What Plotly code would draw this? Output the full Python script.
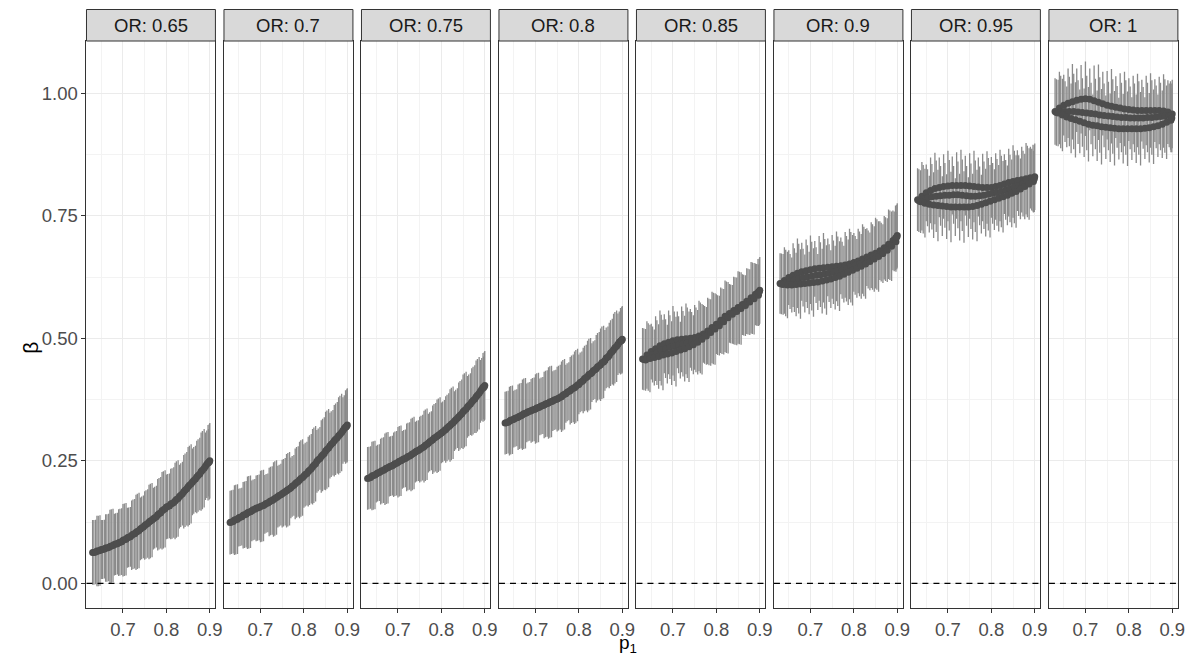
import plotly.graph_objects as go

# ---------------- data ----------------
OR_LABELS = ["0.65", "0.7", "0.75", "0.8", "0.85", "0.9", "0.95", "1"]

P1_U = [0.630, 0.640, 0.650, 0.660, 0.670, 0.680, 0.690, 0.700, 0.710, 0.720, 0.730, 0.740, 0.750, 0.760,
        0.770, 0.780, 0.790, 0.800, 0.810, 0.820, 0.830, 0.840, 0.850, 0.860, 0.870, 0.880, 0.890, 0.900]
P1_M = [0.633, 0.643, 0.653, 0.663, 0.673, 0.683, 0.693, 0.703, 0.713, 0.723, 0.733, 0.743, 0.753, 0.763,
        0.773, 0.783, 0.793, 0.803, 0.813, 0.823, 0.833, 0.843, 0.853, 0.863, 0.873, 0.883, 0.893, 0.896]
P1_L = [0.637, 0.647, 0.657, 0.667, 0.677, 0.687, 0.697, 0.707, 0.717, 0.727, 0.737, 0.747, 0.757, 0.767,
        0.777, 0.787, 0.797, 0.807, 0.817, 0.827, 0.837, 0.847, 0.857, 0.867, 0.877, 0.887, 0.897, 0.899]

# OR 0.65
U_065 = [0.063, 0.066, 0.069, 0.072, 0.075, 0.079, 0.083, 0.088, 0.093, 0.098, 0.104, 0.111, 0.118, 0.125,
         0.132, 0.140, 0.148, 0.156, 0.162, 0.168, 0.177, 0.187, 0.197, 0.207, 0.217, 0.228, 0.239, 0.250]
M_065 = [0.063, 0.066, 0.069, 0.072, 0.076, 0.080, 0.084, 0.089, 0.094, 0.100, 0.106, 0.113, 0.120, 0.127,
         0.134, 0.142, 0.150, 0.157, 0.163, 0.171, 0.180, 0.190, 0.200, 0.210, 0.220, 0.231, 0.243, 0.246]
L_065 = [0.064, 0.067, 0.070, 0.073, 0.077, 0.081, 0.085, 0.090, 0.095, 0.101, 0.108, 0.115, 0.122, 0.129,
         0.136, 0.144, 0.152, 0.158, 0.165, 0.173, 0.183, 0.193, 0.203, 0.213, 0.223, 0.235, 0.246, 0.248]
HW_065 = [0.066, 0.072, 0.060, 0.069, 0.075, 0.063, 0.068, 0.074, 0.061, 0.071, 0.077, 0.064, 0.070, 0.076,
          0.063, 0.073, 0.079, 0.066, 0.072, 0.078, 0.065, 0.075, 0.081, 0.068, 0.074, 0.080, 0.069, 0.077]

# OR 0.7
U_070 = [0.124, 0.129, 0.134, 0.139, 0.144, 0.148, 0.153, 0.157, 0.161, 0.166, 0.171, 0.177, 0.183, 0.189,
         0.195, 0.203, 0.211, 0.219, 0.228, 0.238, 0.249, 0.259, 0.270, 0.281, 0.291, 0.301, 0.312, 0.323]
M_070 = [0.125, 0.130, 0.135, 0.140, 0.145, 0.150, 0.154, 0.158, 0.163, 0.168, 0.173, 0.179, 0.185, 0.191,
         0.198, 0.206, 0.214, 0.222, 0.231, 0.241, 0.252, 0.262, 0.273, 0.284, 0.294, 0.304, 0.316, 0.319]
L_070 = [0.126, 0.131, 0.136, 0.141, 0.146, 0.151, 0.155, 0.159, 0.164, 0.169, 0.175, 0.181, 0.187, 0.193,
         0.200, 0.208, 0.216, 0.224, 0.234, 0.244, 0.255, 0.265, 0.276, 0.287, 0.297, 0.308, 0.319, 0.321]
HW_070 = [0.065, 0.071, 0.059, 0.068, 0.074, 0.062, 0.067, 0.073, 0.060, 0.070, 0.076, 0.063, 0.069, 0.075,
          0.062, 0.072, 0.078, 0.065, 0.071, 0.077, 0.064, 0.074, 0.080, 0.067, 0.073, 0.079, 0.068, 0.075]

# OR 0.75
U_075 = [0.214, 0.219, 0.223, 0.228, 0.233, 0.238, 0.242, 0.247, 0.252, 0.257, 0.262, 0.268, 0.273, 0.279,
         0.286, 0.293, 0.300, 0.307, 0.314, 0.322, 0.331, 0.340, 0.350, 0.360, 0.370, 0.381, 0.392, 0.404]
M_075 = [0.215, 0.220, 0.225, 0.230, 0.235, 0.239, 0.244, 0.249, 0.254, 0.259, 0.264, 0.270, 0.275, 0.282,
         0.289, 0.296, 0.302, 0.309, 0.317, 0.325, 0.334, 0.343, 0.353, 0.363, 0.373, 0.384, 0.396, 0.400]
L_075 = [0.216, 0.221, 0.226, 0.231, 0.236, 0.240, 0.245, 0.250, 0.255, 0.260, 0.266, 0.271, 0.277, 0.284,
         0.291, 0.298, 0.305, 0.312, 0.320, 0.328, 0.337, 0.346, 0.356, 0.366, 0.376, 0.388, 0.399, 0.402]
HW_075 = [0.064, 0.070, 0.058, 0.067, 0.073, 0.061, 0.066, 0.072, 0.059, 0.069, 0.074, 0.062, 0.067, 0.073,
          0.060, 0.070, 0.075, 0.062, 0.068, 0.074, 0.061, 0.070, 0.076, 0.063, 0.069, 0.074, 0.064, 0.070]

# OR 0.8
U_080 = [0.327, 0.331, 0.335, 0.339, 0.344, 0.348, 0.352, 0.356, 0.360, 0.364, 0.368, 0.372, 0.376, 0.381,
         0.387, 0.393, 0.399, 0.406, 0.414, 0.422, 0.430, 0.438, 0.446, 0.455, 0.465, 0.477, 0.488, 0.498]
M_080 = [0.328, 0.333, 0.337, 0.341, 0.346, 0.350, 0.354, 0.358, 0.362, 0.366, 0.370, 0.374, 0.378, 0.384,
         0.390, 0.396, 0.402, 0.410, 0.418, 0.426, 0.434, 0.442, 0.450, 0.460, 0.470, 0.481, 0.492, 0.494]
L_080 = [0.329, 0.334, 0.338, 0.342, 0.347, 0.351, 0.355, 0.359, 0.363, 0.367, 0.371, 0.375, 0.380, 0.386,
         0.392, 0.398, 0.405, 0.412, 0.420, 0.428, 0.436, 0.444, 0.452, 0.462, 0.473, 0.484, 0.495, 0.496]
HW_080 = [0.064, 0.070, 0.058, 0.067, 0.072, 0.060, 0.065, 0.071, 0.058, 0.068, 0.073, 0.061, 0.066, 0.072,
          0.059, 0.069, 0.074, 0.061, 0.067, 0.073, 0.060, 0.069, 0.074, 0.062, 0.067, 0.073, 0.063, 0.068]

# OR 0.85
U_085 = [0.458, 0.466, 0.473, 0.479, 0.485, 0.489, 0.492, 0.495, 0.497, 0.498, 0.499, 0.500, 0.502, 0.505,
         0.509, 0.515, 0.522, 0.529, 0.537, 0.545, 0.551, 0.557, 0.563, 0.569, 0.576, 0.583, 0.590, 0.598]
M_085 = [0.457, 0.462, 0.467, 0.471, 0.476, 0.479, 0.482, 0.484, 0.487, 0.489, 0.491, 0.494, 0.497, 0.501,
         0.507, 0.513, 0.520, 0.527, 0.535, 0.543, 0.550, 0.556, 0.562, 0.568, 0.575, 0.582, 0.589, 0.594]
L_085 = [0.456, 0.459, 0.461, 0.463, 0.466, 0.468, 0.470, 0.473, 0.476, 0.479, 0.483, 0.487, 0.492, 0.498,
         0.505, 0.512, 0.519, 0.526, 0.534, 0.542, 0.549, 0.555, 0.561, 0.567, 0.574, 0.581, 0.588, 0.595]
HW_085 = [0.063, 0.069, 0.057, 0.066, 0.072, 0.060, 0.065, 0.071, 0.058, 0.067, 0.072, 0.060, 0.066, 0.072,
          0.059, 0.068, 0.073, 0.061, 0.067, 0.073, 0.060, 0.069, 0.074, 0.062, 0.067, 0.073, 0.063, 0.068]

# OR 0.9
U_090 = [0.612, 0.618, 0.624, 0.629, 0.633, 0.636, 0.638, 0.640, 0.642, 0.643, 0.644, 0.645, 0.646, 0.647,
         0.648, 0.650, 0.652, 0.655, 0.658, 0.662, 0.666, 0.670, 0.674, 0.679, 0.685, 0.692, 0.700, 0.710]
M_090 = [0.611, 0.613, 0.616, 0.619, 0.622, 0.624, 0.626, 0.627, 0.629, 0.630, 0.632, 0.633, 0.635, 0.637,
         0.639, 0.642, 0.645, 0.649, 0.652, 0.657, 0.661, 0.666, 0.671, 0.676, 0.682, 0.690, 0.698, 0.705]
L_090 = [0.610, 0.609, 0.609, 0.610, 0.611, 0.612, 0.613, 0.614, 0.615, 0.617, 0.619, 0.621, 0.624, 0.627,
         0.631, 0.635, 0.639, 0.643, 0.647, 0.652, 0.657, 0.662, 0.667, 0.673, 0.680, 0.688, 0.697, 0.707]
HW_090 = [0.062, 0.068, 0.056, 0.065, 0.071, 0.059, 0.064, 0.070, 0.057, 0.066, 0.071, 0.059, 0.065, 0.071,
          0.058, 0.067, 0.072, 0.060, 0.066, 0.071, 0.059, 0.067, 0.072, 0.060, 0.065, 0.071, 0.061, 0.066]

# OR 0.95
U_095 = [0.783, 0.790, 0.797, 0.802, 0.806, 0.808, 0.810, 0.811, 0.812, 0.812, 0.812, 0.812, 0.811, 0.810,
         0.809, 0.808, 0.808, 0.808, 0.810, 0.812, 0.815, 0.818, 0.820, 0.822, 0.824, 0.826, 0.828, 0.830]
M_095 = [0.781, 0.784, 0.787, 0.789, 0.790, 0.791, 0.792, 0.792, 0.793, 0.793, 0.792, 0.791, 0.790, 0.790,
         0.791, 0.792, 0.794, 0.796, 0.798, 0.800, 0.803, 0.806, 0.809, 0.812, 0.816, 0.820, 0.824, 0.827]
L_095 = [0.779, 0.776, 0.774, 0.772, 0.771, 0.770, 0.769, 0.768, 0.768, 0.768, 0.768, 0.768, 0.769, 0.771,
         0.774, 0.777, 0.780, 0.783, 0.786, 0.789, 0.792, 0.796, 0.800, 0.805, 0.810, 0.815, 0.820, 0.826]
HW_095 = [0.064, 0.070, 0.058, 0.067, 0.073, 0.061, 0.066, 0.072, 0.059, 0.068, 0.073, 0.061, 0.067, 0.073,
          0.060, 0.069, 0.074, 0.062, 0.068, 0.073, 0.061, 0.069, 0.074, 0.062, 0.067, 0.073, 0.063, 0.068]

# OR 1
U_100 = [0.963, 0.970, 0.976, 0.980, 0.983, 0.986, 0.988, 0.989, 0.988, 0.985, 0.982, 0.979, 0.976, 0.974,
         0.972, 0.970, 0.968, 0.967, 0.966, 0.965, 0.965, 0.965, 0.965, 0.965, 0.965, 0.964, 0.962, 0.958]
M_100 = [0.961, 0.962, 0.963, 0.963, 0.963, 0.962, 0.961, 0.960, 0.959, 0.958, 0.956, 0.955, 0.954, 0.953,
         0.952, 0.951, 0.951, 0.950, 0.950, 0.950, 0.950, 0.951, 0.951, 0.952, 0.953, 0.954, 0.955, 0.955]
L_100 = [0.960, 0.956, 0.952, 0.949, 0.946, 0.943, 0.940, 0.937, 0.935, 0.934, 0.932, 0.931, 0.930, 0.929,
         0.928, 0.928, 0.928, 0.928, 0.928, 0.928, 0.929, 0.930, 0.932, 0.934, 0.937, 0.941, 0.945, 0.950]
HW_100 = [0.068, 0.074, 0.062, 0.071, 0.077, 0.065, 0.070, 0.076, 0.063, 0.072, 0.077, 0.065, 0.070, 0.076,
          0.063, 0.071, 0.076, 0.064, 0.070, 0.075, 0.063, 0.071, 0.076, 0.064, 0.069, 0.075, 0.065, 0.070]

Y_TICKS = [0.0, 0.25, 0.5, 0.75, 1.0]
Y_TICK_TEXT = ["0.00", "0.25", "0.50", "0.75", "1.00"]
X_TICKS = [0.7, 0.8, 0.9]
X_TICK_TEXT = ["0.7", "0.8", "0.9"]

PANELS = [
    (U_065, M_065, L_065, HW_065),
    (U_070, M_070, L_070, HW_070),
    (U_075, M_075, L_075, HW_075),
    (U_080, M_080, L_080, HW_080),
    (U_085, M_085, L_085, HW_085),
    (U_090, M_090, L_090, HW_090),
    (U_095, M_095, L_095, HW_095),
    (U_100, M_100, L_100, HW_100),
]

# ---------------- layout geometry ----------------
W, H = 1198, 658
FONT = "Liberation Sans, Arial, Helvetica, sans-serif"
LEFT0, PITCH, PW = 87.0, 138.3, 129.7
Y_BOT, Y_TOP, STRIP_TOP = 608.3, 41.0, 9.5
yd = [(H - Y_BOT) / H, (H - Y_TOP) / H]
strip_y1 = (H - STRIP_TOP) / H
TICK_SIZE = 18.5

fig = go.Figure()
shapes, annotations = [], []
layout_axes = {}

for k, (U, M, L, HW) in enumerate(PANELS):
    sfx = "" if k == 0 else str(k + 1)
    xa, ya = "x" + sfx, "y" + sfx
    x0 = (LEFT0 + k * PITCH) / W
    x1 = (LEFT0 + k * PITCH + PW) / W

    ex, ey = [], []
    for xs, ys in ((P1_U, U), (P1_M, M), (P1_L, L)):
        for xv, yv, h in zip(xs, ys, HW):
            ex += [xv, xv, None]
            ey += [yv - h, yv + h, None]
    fig.add_trace(go.Scatter(x=ex, y=ey, mode="lines",
                             line=dict(color="#8a8a8a", width=1.3),
                             xaxis=xa, yaxis=ya, hoverinfo="skip", showlegend=False))
    fig.add_trace(go.Scatter(x=P1_U + P1_M + P1_L, y=U + M + L, mode="markers",
                             marker=dict(color="#4d4d4d", size=7, line=dict(width=0)),
                             xaxis=xa, yaxis=ya, showlegend=False))

    # dashed zero line
    shapes.append(dict(type="line", xref=f"{xa} domain", x0=0, x1=1, yref=ya, y0=0, y1=0,
                       line=dict(color="black", width=1.3, dash="6px,5px"), layer="above"))
    # strip
    shapes.append(dict(type="rect", xref="paper", yref="paper", x0=x0, x1=x1, y0=yd[1], y1=strip_y1,
                       fillcolor="#d9d9d9", line=dict(color="#333333", width=1), layer="above"))
    annotations.append(dict(text=f"OR: {OR_LABELS[k]}", xref="paper", yref="paper",
                            x=(x0 + x1) / 2, y=(yd[1] + strip_y1) / 2, xanchor="center", yanchor="middle",
                            showarrow=False, font=dict(family=FONT, size=TICK_SIZE, color="#1a1a1a")))

    layout_axes["xaxis" + sfx] = dict(
        domain=[x0, x1], anchor=ya, range=[0.6159, 0.913],
        tickvals=X_TICKS, ticktext=X_TICK_TEXT, ticks="outside", ticklen=4, tickwidth=1,
        tickcolor="#333333", tickfont=dict(family=FONT, size=TICK_SIZE, color="#4d4d4d"),
        showgrid=True, gridcolor="#ebebeb", gridwidth=1.1,
        minor=dict(tickvals=[0.65, 0.75, 0.85], showgrid=True, gridcolor="#f3f3f3", gridwidth=0.7, ticks=""),
        showline=True, mirror=True, linecolor="#333333", linewidth=1, zeroline=False, fixedrange=True)
    layout_axes["yaxis" + sfx] = dict(
        domain=yd, anchor=xa, range=[-0.051, 1.107],
        tickvals=Y_TICKS, ticktext=Y_TICK_TEXT,
        ticks="outside" if k == 0 else "", ticklen=4, tickwidth=1, tickcolor="#333333",
        showticklabels=(k == 0), tickfont=dict(family=FONT, size=TICK_SIZE, color="#4d4d4d"),
        showgrid=True, gridcolor="#ebebeb", gridwidth=1.1,
        minor=dict(tickvals=[0.125, 0.375, 0.625, 0.875], showgrid=True, gridcolor="#f3f3f3",
                   gridwidth=0.7, ticks=""),
        showline=True, mirror=True, linecolor="#333333", linewidth=1, zeroline=False, fixedrange=True)

annotations.append(dict(text="β", xref="paper", yref="paper", x=30 / W, y=(H - 348) / H,
                        textangle=-90, showarrow=False, xanchor="center", yanchor="middle",
                        font=dict(family=FONT, size=21, color="black")))
annotations.append(dict(text="p<sub>1</sub>", xref="paper", yref="paper", x=632 / W, y=(H - 644) / H,
                        showarrow=False, xanchor="center", yanchor="middle",
                        font=dict(family=FONT, size=19, color="black")))

fig.update_layout(width=W, height=H, autosize=False, margin=dict(l=0, r=0, t=0, b=0),
                  paper_bgcolor="white", plot_bgcolor="white", showlegend=False,
                  shapes=shapes, annotations=annotations, font=dict(family=FONT), **layout_axes)

fig.write_html("out.html")
